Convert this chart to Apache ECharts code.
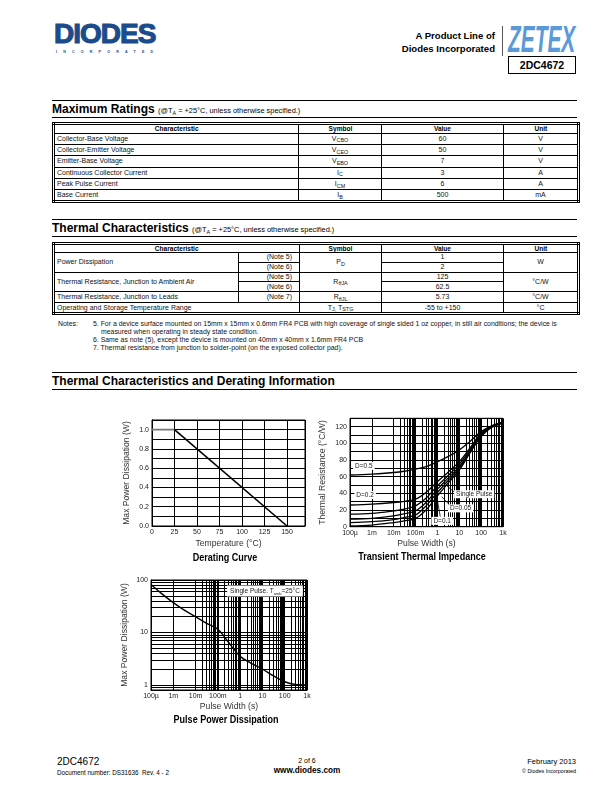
<!DOCTYPE html>
<html><head><meta charset="utf-8">
<script src="https://cdn.jsdelivr.net/npm/echarts@6/dist/echarts.min.js"></script>
<style>
html,body{margin:0;padding:0;background:#fff;}
body{width:612px;height:792px;position:relative;overflow:hidden;font-family:"Liberation Sans",Arial,sans-serif;color:#000;}
.a{position:absolute;white-space:nowrap;}
.hl{position:absolute;left:52px;width:525px;height:0;border-top:1.4px solid #000;}
.sh{position:absolute;left:52px;font-weight:bold;font-size:12px;white-space:nowrap;}
.sh small{font-weight:normal;font-size:7.4px;}
table{position:absolute;left:52px;width:525px;border-collapse:collapse;table-layout:fixed;border:3px double #000;font-size:7px;color:#111;}
td,th{border:1px solid #000;padding:0;text-align:center;line-height:6px;overflow:hidden;white-space:nowrap;}
th{font-size:8px;font-weight:bold;color:#000;}
th span.nw{display:inline-block;transform:scaleX(0.82);}
td.l{text-align:left;padding-left:2px;}
td.n{text-align:right;padding-right:7px;}
.s{font-size:5.4px;position:relative;top:1.5px;}
.notes{position:absolute;font-size:6.9px;color:#111;white-space:nowrap;}
#c{position:absolute;left:0;top:400px;width:612px;height:340px;}
</style></head>
<body>
<!-- header -->
<div class="a" style="left:54px;top:18px;font-size:28px;font-weight:bold;color:#1c4b8c;letter-spacing:-1px;-webkit-text-stroke:1.1px #1c4b8c;">DIODES</div>
<div class="a" style="left:56px;top:50px;font-size:3.6px;font-weight:bold;color:#1c4b8c;letter-spacing:6.2px;">INCORPORATED</div>
<div class="a" style="right:117px;top:29px;font-size:9.6px;font-weight:bold;text-align:right;line-height:13px;">A Product Line of<br>Diodes Incorporated</div>
<div class="a" style="left:502px;top:26px;width:0;height:30px;border-left:1px solid #555;"></div>
<div class="a" style="left:508px;top:19px;font-size:36px;font-weight:bold;font-style:italic;color:#5a9ad8;transform:scale(0.58,1.0);transform-origin:left top;">ZETEX</div>
<div class="a" style="left:508px;top:56px;width:66px;height:16px;border:1px solid #000;font-size:10.5px;font-weight:bold;text-align:center;line-height:16px;">2DC4672</div>

<!-- Maximum Ratings -->
<div class="hl" style="top:100px"></div>
<div class="sh" style="top:102px">Maximum Ratings <small>(@T<span class="s">A</span> = +25°C, unless otherwise specified.)</small></div>
<div class="hl" style="top:117px"></div>
<table style="top:122px">
<colgroup><col style="width:245px"><col style="width:83px"><col style="width:122px"><col style="width:75px"></colgroup>
<tr style="height:9.5px"><th><span class="nw">Characteristic</span></th><th><span class="nw">Symbol</span></th><th><span class="nw">Value</span></th><th><span class="nw">Unit</span></th></tr>
<tr style="height:11.4px"><td class="l">Collector-Base Voltage</td><td>V<span class="s">CBO</span></td><td>60</td><td>V</td></tr>
<tr style="height:11.4px"><td class="l">Collector-Emitter Voltage</td><td>V<span class="s">CEO</span></td><td>50</td><td>V</td></tr>
<tr style="height:11.4px"><td class="l">Emitter-Base Voltage</td><td>V<span class="s">EBO</span></td><td>7</td><td>V</td></tr>
<tr style="height:11.4px"><td class="l">Continuous Collector Current</td><td>I<span class="s">C</span></td><td>3</td><td>A</td></tr>
<tr style="height:11.4px"><td class="l">Peak Pulse Current</td><td>I<span class="s">CM</span></td><td>6</td><td>A</td></tr>
<tr style="height:11.4px"><td class="l">Base Current</td><td>I<span class="s">B</span></td><td>500</td><td>mA</td></tr>
</table>

<!-- Thermal Characteristics -->
<div class="hl" style="top:219px"></div>
<div class="sh" style="top:221px">Thermal Characteristics <small>(@T<span class="s">A</span> = +25°C, unless otherwise specified.)</small></div>
<div class="hl" style="top:236px"></div>
<table style="top:242px">
<colgroup><col style="width:185px"><col style="width:61px"><col style="width:82px"><col style="width:122px"><col style="width:75px"></colgroup>
<tr style="height:9px"><th colspan="2"><span class="nw">Characteristic</span></th><th><span class="nw">Symbol</span></th><th><span class="nw">Value</span></th><th><span class="nw">Unit</span></th></tr>
<tr style="height:9.8px"><td class="l" rowspan="2">Power Dissipation</td><td class="n">(Note 5)</td><td rowspan="2">P<span class="s">D</span></td><td>1</td><td rowspan="2">W</td></tr>
<tr style="height:9.8px"><td class="n">(Note 6)</td><td>2</td></tr>
<tr style="height:9.8px"><td class="l" rowspan="2">Thermal Resistance, Junction to Ambient Air</td><td class="n">(Note 5)</td><td rowspan="2">R<span class="s">θJA</span></td><td>125</td><td rowspan="2">°C/W</td></tr>
<tr style="height:9.8px"><td class="n">(Note 6)</td><td>62.5</td></tr>
<tr style="height:11px"><td class="l">Thermal Resistance, Junction to Leads</td><td class="n">(Note 7)</td><td>R<span class="s">θJL</span></td><td>5.73</td><td>°C/W</td></tr>
<tr style="height:11px"><td class="l" colspan="2">Operating and Storage Temperature Range</td><td>T<span class="s">J,</span> T<span class="s">STG</span></td><td>-55 to +150</td><td>°C</td></tr>
</table>
<div class="notes" style="left:58px;top:320px;">Notes:</div>
<div class="notes" style="left:93px;top:320px;">5. For a device surface mounted on 15mm x 15mm x 0.6mm FR4 PCB with high coverage of single sided 1 oz copper, in still air conditions; the device is</div>
<div class="notes" style="left:101px;top:328px;">measured when operating in steady state condition.</div>
<div class="notes" style="left:93px;top:336px;">6. Same as note (5), except the device is mounted on 40mm x 40mm x 1.6mm FR4 PCB</div>
<div class="notes" style="left:93px;top:344px;">7. Thermal resistance from junction to solder-point (on the exposed collector pad).</div>

<!-- Derating heading -->
<div class="hl" style="top:372px"></div>
<div class="sh" style="top:374px">Thermal Characteristics and Derating Information</div>
<div class="hl" style="top:389px"></div>

<div id="c"></div>

<!-- footer -->
<div class="a" style="left:57px;top:756px;font-size:10px;">2DC4672</div>
<div class="a" style="left:57px;top:769px;font-size:6.3px;">Document number: DS31636&nbsp; Rev. 4 - 2</div>
<div class="a" style="left:287px;top:757px;width:40px;text-align:center;font-size:7px;">2 of 6</div>
<div class="a" style="left:267px;top:766px;width:80px;text-align:center;font-size:8.2px;font-weight:bold;">www.diodes.com</div>
<div class="a" style="right:36px;top:757px;font-size:7.5px;text-align:right;">February 2013</div>
<div class="a" style="right:36px;top:768px;font-size:5.4px;text-align:right;">© Diodes Incorporated</div>

<script>
// ---------- data ----------
const derateTemp = [0, 25, 150];
const deratePower = [1.0, 1.0, 0.0];

const ttiPulseWidth = [1e-4, 1e-3, 1e-2, 3e-2, 1e-1, 3e-1, 1, 3, 10, 30, 100, 300, 1000];
const ttiD05    = [62, 63, 65, 66.5, 69, 72, 78, 84, 92, 102, 114, 121, 125];
const ttiD02    = [26, 27, 29, 30.5, 33, 41, 54, 65, 78, 94, 112, 120, 125];
const ttiD01    = [15, 16, 19, 21, 25, 34, 49, 61, 75, 92, 111, 120, 125];
const ttiD005   = [9, 10, 13, 15.5, 19, 29, 45, 58, 72, 90, 110, 120, 125];
const ttiD002   = [5, 6, 8.5, 11, 14, 25, 41, 55, 70, 89, 109, 120, 125];
const ttiSingle = [1, 2, 5, 7, 10, 20, 37, 52, 68, 88, 108, 119, 124];

const ppdPulseWidth = [1e-4, 3e-4, 1e-3, 3e-3, 1e-2, 3e-2, 1e-1, 3e-1, 1, 3, 10, 30, 100, 300, 1000];
const ppdPower = [82, 55, 37, 27, 20, 15, 11.5, 6.5, 3.5, 2.6, 2.0, 1.5, 1.15, 1.02, 1.0];

const logTickLabels = {'-4':'100µ','-3':'1m','-2':'10m','-1':'100m','0':'1','1':'10','2':'100','3':'1k'};

// ---------- helpers ----------
const FONT = "'Liberation Sans', Arial, sans-serif";
const zip = (xs, ys) => xs.map((x, i) => [x, ys[i]]);
function minorLogValues(e0, e1, lo, hi) {
  const out = [];
  for (let e = e0; e <= e1; e++) for (let k = 2; k < 10; k++) {
    const v = k * Math.pow(10, e);
    if (v > lo && v < hi) out.push(v);
  }
  return out;
}
const black = '#000';
const labelStyle = {fontSize: 7, color: '#222', fontFamily: FONT, margin: 3};
const nameStyle = {fontSize: 8.6, color: '#333', fontFamily: FONT};
const logFmt = v => { const e = Math.round(Math.log10(v)); return Math.abs(Math.log10(v) - e) < 1e-6 ? (logTickLabels[e] || '') : ''; };

const gridLineSeries = (xi, yi, xs, ys) => ({
  type: 'line', xAxisIndex: xi, yAxisIndex: yi, data: [], silent: true, z: 1,
  markLine: {
    silent: true, symbol: ['none', 'none'], label: {show: false}, animation: false,
    lineStyle: {color: black, width: 1, type: 'solid'}, emphasis: {disabled: true},
    data: xs.map(v => ({xAxis: v})).concat(ys.map(v => ({yAxis: v})))
  }
});

const curve = (name, xs, ys) => ({
  name, type: 'line', xAxisIndex: 1, yAxisIndex: 1, data: zip(xs, ys), smooth: 0.35,
  showSymbol: false, symbol: 'none', z: 5, lineStyle: {color: black, width: 1.3}
});

const boxLabel = (text, x, y) => ({
  coord: [x, y], symbol: 'rect', symbolSize: 1, itemStyle: {color: 'rgba(0,0,0,0)'},
  label: {show: true, position: 'inside', formatter: text, backgroundColor: '#fff', padding: [1, 2, 0, 2],
          fontSize: 6.5, color: '#222', fontFamily: FONT}
});

const titleText = (text, x, y) => ({
  type: 'text', x, y, scaleX: 0.86,
  style: {text, textAlign: 'center', textVerticalAlign: 'middle', font: 'bold 10.5px ' + FONT, fill: '#000'}
});

const chart = echarts.init(document.getElementById('c'), null, {renderer: 'canvas'});
const option = {
  animation: false,
  grid: [
    {left: 152, top: 20, width: 153, height: 106, show: true, borderColor: black, borderWidth: 1},
    {left: 350, top: 18.3, width: 153, height: 108.4, show: true, borderColor: black, borderWidth: 1},
    {left: 151, top: 180, width: 156, height: 110, show: true, borderColor: black, borderWidth: 1}
  ],
  xAxis: [
    {gridIndex: 0, type: 'value', min: 0, max: 170, interval: 25,
     axisLine: {show: true, lineStyle: {color: black}}, axisTick: {show: false},
     axisLabel: Object.assign({}, labelStyle, {showMaxLabel: false, formatter: v => (v % 25 === 0 && v <= 150) ? String(v) : ''}),
     splitLine: {show: true, lineStyle: {color: black, width: 1}},
     name: 'Temperature (°C)', nameLocation: 'middle', nameGap: 13, nameTextStyle: nameStyle},
    {gridIndex: 1, type: 'log', logBase: 10, min: 1e-4, max: 1e3,
     axisLine: {show: true, lineStyle: {color: black}}, axisTick: {show: false},
     axisLabel: Object.assign({}, labelStyle, {formatter: logFmt, showMinLabel: true, showMaxLabel: true}),
     splitLine: {show: true, lineStyle: {color: black, width: 1}},
     name: 'Pulse Width (s)', nameLocation: 'middle', nameGap: 12, nameTextStyle: nameStyle},
    {gridIndex: 2, type: 'log', logBase: 10, min: 1e-4, max: 1e3,
     axisLine: {show: true, lineStyle: {color: black}}, axisTick: {show: false},
     axisLabel: Object.assign({}, labelStyle, {formatter: logFmt, showMinLabel: true, showMaxLabel: true}),
     splitLine: {show: true, lineStyle: {color: black, width: 1}},
     name: 'Pulse Width (s)', nameLocation: 'middle', nameGap: 12, nameTextStyle: nameStyle}
  ],
  yAxis: [
    {gridIndex: 0, type: 'value', min: 0, max: 1.1, interval: 0.1,
     axisLine: {show: true, lineStyle: {color: black}}, axisTick: {show: false},
     axisLabel: Object.assign({}, labelStyle, {formatter: v => { const t = Math.round(v * 10); return (t % 2 === 0 && t <= 10) ? (t / 10).toFixed(1) : ''; }}),
     splitLine: {show: true, lineStyle: {color: black, width: 1}},
     name: 'Max Power Dissipation (W)', nameLocation: 'middle', nameGap: 21, nameRotate: 90, nameTextStyle: nameStyle},
    {gridIndex: 1, type: 'value', min: 0, max: 130, interval: 10,
     axisLine: {show: true, lineStyle: {color: black}}, axisTick: {show: false},
     axisLabel: Object.assign({}, labelStyle, {formatter: v => (v % 20 === 0 && v <= 120) ? String(v) : ''}),
     splitLine: {show: true, lineStyle: {color: black, width: 1}},
     name: 'Thermal Resistance (°C/W)', nameLocation: 'middle', nameGap: 23, nameRotate: 90, nameTextStyle: nameStyle},
    {gridIndex: 2, type: 'log', logBase: 10, min: 0.8, max: 100,
     axisLine: {show: true, lineStyle: {color: black}}, axisTick: {show: false},
     axisLabel: Object.assign({}, labelStyle, {formatter: v => { const e = Math.log10(v); return Math.abs(e - Math.round(e)) < 1e-6 ? String(Math.round(v)) : ''; }}),
     splitLine: {show: true, lineStyle: {color: black, width: 1}},
     name: 'Max Power Dissipation (W)', nameLocation: 'middle', nameGap: 22, nameRotate: 90, nameTextStyle: nameStyle}
  ],
  graphic: [
    titleText('Derating Curve', 225, 158),
    titleText('Transient Thermal Impedance', 422, 157),
    titleText('Pulse Power Dissipation', 226, 320)
  ],
  series: [
    // derating curve
    {type: 'line', xAxisIndex: 0, yAxisIndex: 0, data: zip(derateTemp.slice(0, 2), deratePower.slice(0, 2)),
     symbol: 'none', z: 5, lineStyle: {color: '#777', width: 1.6}},
    {type: 'line', xAxisIndex: 0, yAxisIndex: 0, data: zip(derateTemp.slice(1), deratePower.slice(1)),
     symbol: 'none', z: 5, lineStyle: {color: black, width: 1.6}},
    // transient thermal impedance
    gridLineSeries(1, 1, minorLogValues(-4, 2, 1e-4, 1e3), []),
    curve('D=0.5', ttiPulseWidth, ttiD05),
    curve('D=0.2', ttiPulseWidth, ttiD02),
    curve('D=0.1', ttiPulseWidth, ttiD01),
    curve('D=0.05', ttiPulseWidth, ttiD005),
    curve('D=0.02', ttiPulseWidth, ttiD002),
    Object.assign(curve('Single Pulse', ttiPulseWidth, ttiSingle), {
      markLine: {silent: true, symbol: ['none', 'none'], label: {show: false}, animation: false,
        lineStyle: {color: black, width: 0.8, type: 'solid'},
        data: [
          [{coord: [1.57, 36]}, {coord: [3.6, 26]}],
          [{coord: [1.0, 31]}, {coord: [1.35, 12]}],
          [{coord: [2.7, 49]}, {coord: [7.5, 39]}]
        ]},
      markPoint: {silent: true, animation: false, z: 10, data: [
        boxLabel('D=0.5', 4.3e-4, 73),
        boxLabel('D=0.2', 4.9e-4, 38),
        boxLabel('Single Pulse', 48, 39),
        boxLabel('D=0.05', 11.5, 22),
        boxLabel('D=0.1', 1.65, 7)
      ]}
    }),
    // pulse power dissipation
    gridLineSeries(2, 2, minorLogValues(-4, 2, 1e-4, 1e3), minorLogValues(-1, 1, 0.79, 100)),
    {type: 'line', xAxisIndex: 2, yAxisIndex: 2, data: zip(ppdPulseWidth, ppdPower), smooth: 0.35,
     symbol: 'none', z: 5, lineStyle: {color: black, width: 1.4},
     markPoint: {silent: true, animation: false, data: [{
       coord: [13, 62], symbol: 'rect', symbolSize: 1, itemStyle: {color: 'rgba(0,0,0,0)'},
       label: {show: true, position: 'inside', backgroundColor: '#fff', padding: [2, 3, 1, 3],
         formatter: '{a|Single Pulse. T}{s|amb}{a|=25°C}',
         rich: {a: {fontSize: 6.5, color: '#222', fontFamily: FONT}, s: {fontSize: 4, color: '#222', fontFamily: FONT, verticalAlign: 'bottom', padding: [4, 0, 0, 0]}}}
     }]}}
  ]
};
chart.setOption(option);
</script>
</body></html>
